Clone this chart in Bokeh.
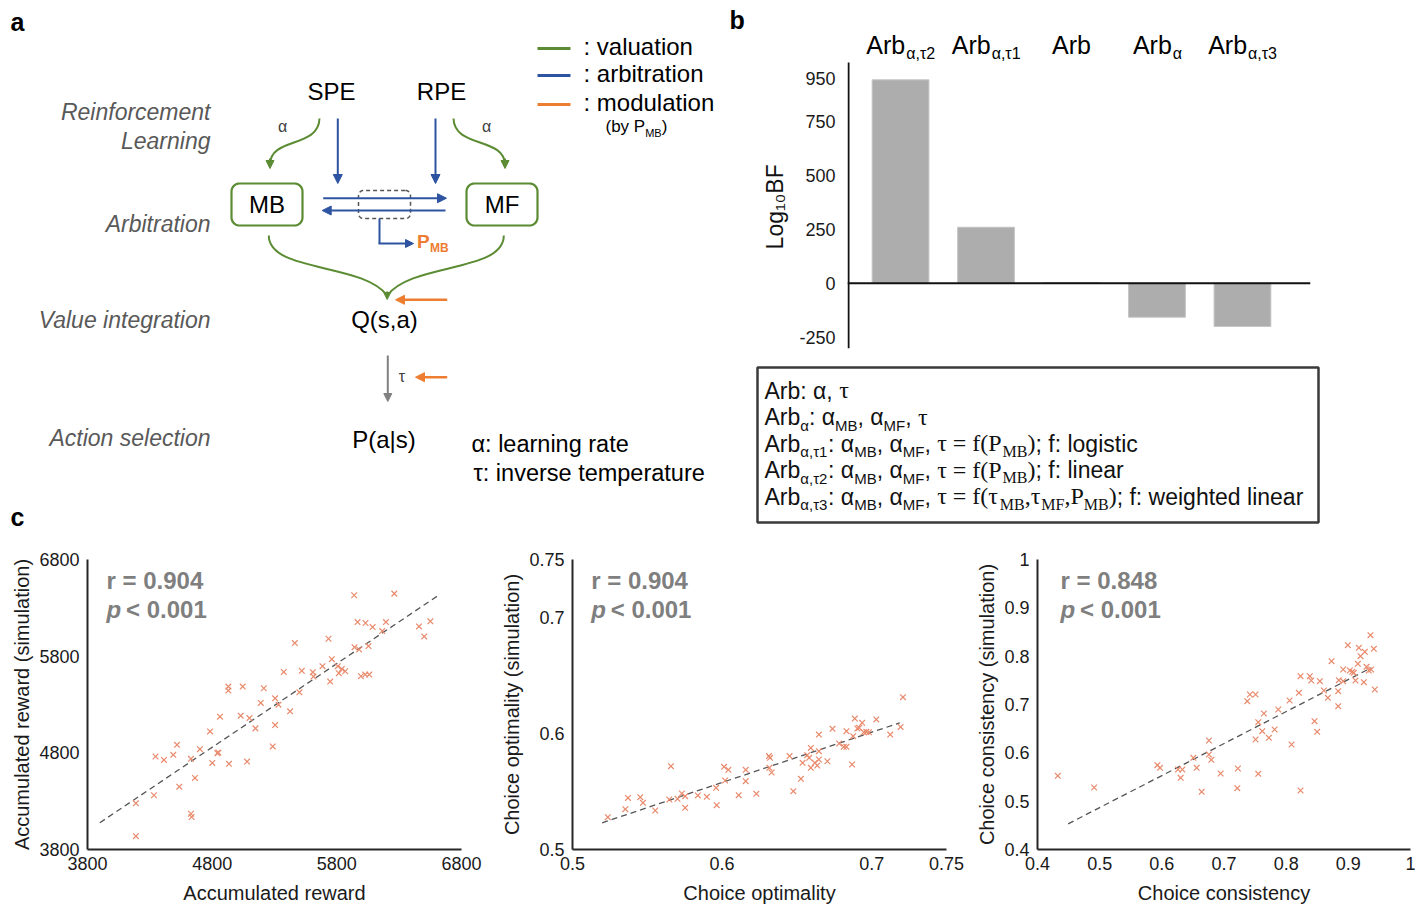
import numpy as np
from bokeh.plotting import figure
from bokeh.layouts import row, column
from bokeh.models import Range1d, Arrow, NormalHead, Span, FixedTicker, CustomJSTickFormatter
from bokeh.core.properties import value
from bokeh.embed import file_html
from bokeh.resources import INLINE

# ---------------- data ----------------
model_base = ["Arb", "Arb", "Arb", "Arb", "Arb"]
model_sub = ["α,τ2", "α,τ1", "", "α", "α,τ3"]
log10_bf = [945, 260, 3, -158, -201]
bf_ticks = [-250, 0, 250, 500, 750, 950]

reward_obs = [4188, 4188, 4333, 4346, 4413, 4488, 4518, 4536, 4630, 4630, 4635, 4662, 4702, 4783,
              4801, 4842, 4850, 4863, 4930, 4930, 4935, 5029, 5045, 5080, 5099, 5147, 5190, 5214,
              5286, 5305, 5305, 5332, 5374, 5425, 5463, 5500, 5519, 5607, 5613, 5685, 5733, 5747,
              5760, 5808, 5816, 5840, 5867, 5939, 5942, 5966, 5979, 5993, 6030, 6028, 6054, 6060,
              6087, 6164, 6194, 6261, 6459, 6501, 6550]
reward_sim = [3938, 4278, 4361, 4762, 4727, 4779, 4883, 4450, 4738, 4170, 4136, 4540, 4838, 5021,
              4696, 4797, 4803, 5174, 5485, 5444, 4686, 5184, 5485, 4710, 5160, 5053, 5316, 5468,
              4866, 5364, 5087, 5298, 5637, 5229, 5935, 5426, 5648, 5634, 5589, 5696, 5980, 5537,
              5769, 5696, 5624, 5668, 5644, 6430, 5893, 6153, 5869, 5592, 6143, 5610, 5904, 5610,
              6101, 6060, 6153, 6447, 6108, 6004, 6160]
reward_fit_x = [3899, 6603]
reward_fit_y = [4077, 6419]
reward_ticks = [3800, 4800, 5800, 6800]

optim_obs = [0.5236, 0.5353, 0.5371, 0.5453, 0.5471, 0.5553, 0.5647, 0.5658, 0.5702, 0.5731,
             0.5753, 0.5753, 0.5838, 0.5898, 0.5960, 0.5964, 0.6013, 0.6020, 0.6042, 0.6111,
             0.6158, 0.6158, 0.6229, 0.6313, 0.6320, 0.6316, 0.6331, 0.6451, 0.6476, 0.6527,
             0.6538, 0.6569, 0.6582, 0.6593, 0.6593, 0.6620, 0.6636, 0.6647, 0.6647, 0.6647,
             0.6704, 0.6738, 0.6782, 0.6813, 0.6831, 0.6831, 0.6869, 0.6876, 0.6887, 0.6904,
             0.6916, 0.6936, 0.6947, 0.6964, 0.6982, 0.7031, 0.7124, 0.7193, 0.7209]
optim_sim = [0.5279, 0.5348, 0.5445, 0.5451, 0.5402, 0.5336, 0.5431, 0.5718, 0.5437, 0.5483,
             0.5460, 0.5359, 0.5466, 0.5454, 0.5532, 0.5382, 0.5713, 0.5595, 0.5687, 0.5468,
             0.5687, 0.5589, 0.5480, 0.5805, 0.5790, 0.5704, 0.5664, 0.5805, 0.5503, 0.5609,
             0.5747, 0.5813, 0.5790, 0.5876, 0.5704, 0.5747, 0.5724, 0.5776, 0.5848, 0.5991,
             0.5761, 0.6040, 0.5914, 0.5885, 0.5885, 0.6020, 0.5733, 0.5977, 0.6129, 0.6043,
             0.6049, 0.6092, 0.6011, 0.6014, 0.6011, 0.6121, 0.5991, 0.6057, 0.6313]
optim_fit_x = [0.5198, 0.7187]
optim_fit_y = [0.5230, 0.6092]
optim_ticks = [0.5, 0.6, 0.7, 0.75]

consist_obs = [0.4327, 0.4911, 0.5928, 0.5971, 0.6260, 0.6330, 0.6303, 0.6507, 0.6560, 0.6641,
               0.6758, 0.6758, 0.6796, 0.6946, 0.7224, 0.7214, 0.7374, 0.7417, 0.7508, 0.7508,
               0.7551, 0.7551, 0.7615, 0.7642, 0.7722, 0.7814, 0.7873, 0.8055, 0.8087, 0.8205,
               0.8231, 0.8231, 0.8381, 0.8403, 0.8456, 0.8499, 0.8542, 0.8606, 0.8671, 0.8730,
               0.8837, 0.8837, 0.8847, 0.8917, 0.8917, 0.8992, 0.9024, 0.9062, 0.9088, 0.9115,
               0.9153, 0.9169, 0.9196, 0.9249, 0.9265, 0.9292, 0.9329, 0.9356, 0.9367, 0.9410,
               0.9426]
consist_sim = [0.5524, 0.5283, 0.5745, 0.5690, 0.5655, 0.5655, 0.5483, 0.5897, 0.5690, 0.5193,
               0.6255, 0.5966, 0.5855, 0.5572, 0.5676, 0.5269, 0.7069, 0.7207, 0.7207, 0.6276,
               0.5566, 0.6634, 0.6448, 0.6814, 0.6310, 0.6483, 0.6897, 0.7083, 0.6172, 0.7241,
               0.7586, 0.5221, 0.7586, 0.7497, 0.6655, 0.6434, 0.7483, 0.7290, 0.7138, 0.7897,
               0.7276, 0.6966, 0.7503, 0.7724, 0.7483, 0.8228, 0.7703, 0.7676, 0.7655, 0.7497,
               0.7841, 0.8172, 0.8000, 0.7462, 0.8090, 0.7779, 0.7703, 0.8434, 0.7724, 0.8152,
               0.7310]
consist_fit_x = [0.4493, 0.9367]
consist_fit_y = [0.4531, 0.7759]
consist_ticks = [0.4, 0.5, 0.6, 0.7, 0.8, 0.9, 1.0]

corr_r = ["0.904", "0.904", "0.848"]
corr_p = "0.001"

# ---------------- styles ----------------
SANS = "Liberation Sans"
SERIF = "Liberation Serif"
GREEN = "#5B8C33"
BLUE = "#2E54A1"
ORANGE = "#ED7D31"
GRAYTXT = "#595959"
MARK = "#E98A6C"
BASE_K = 0.36   # glyph y is drawn at the visual middle of capitals

SANS_W = {' ': 278, '!': 278, '(': 333, ')': 333, ',': 278, '.': 278, ':': 278, ';': 278,
          '<': 584, '=': 584, '|': 260, 'α': 578, 'τ': 440}
for d in "0123456789":
    SANS_W[d] = 556
SANS_W.update(dict(zip("ABCDEFGHIJKLMNOPQRSTUVWXYZ",
                       [667, 667, 722, 722, 667, 611, 778, 722, 278, 500, 667, 556, 833, 722, 778,
                        667, 778, 722, 667, 611, 722, 667, 944, 667, 667, 611])))
SANS_W.update(dict(zip("abcdefghijklmnopqrstuvwxyz",
                       [556, 556, 500, 556, 556, 278, 556, 556, 222, 222, 500, 222, 833, 556, 556,
                        556, 556, 333, 500, 278, 556, 500, 722, 500, 500, 500])))
SERIF_W = {' ': 250, '=': 564, '(': 333, ')': 333, ',': 250, 'f': 333, 'P': 556, 'M': 889,
           'B': 667, 'F': 556, 'τ': 440, 'α': 520}


def tw(s, size, table):
    return sum(table.get(ch, 556) for ch in s) * size / 1000.0


def raw_txt(p, x, y, s, size, color="#000000", style="normal", align="left", font=SANS):
    p.text(x=[x], y=[y], text=[s], text_font=value(font), text_font_size=f"{size}px",
           text_color=color, text_font_style=style, text_align=align,
           text_baseline="alphabetic")


def txt(p, x, base, s, size, **kw):
    # page-pixel canvases: y axis points down
    raw_txt(p, x, base - BASE_K * size, s, size, **kw)


def canvas(w, h, x0, y0):
    p = figure(width=w, height=h, x_range=Range1d(x0, x0 + w), y_range=Range1d(y0 + h, y0),
               output_backend="svg", toolbar_location=None, min_border=0,
               x_axis_location=None, y_axis_location=None)
    p.outline_line_color = None
    p.grid.visible = False
    return p


def arrow(p, xs, ys, xe, ye, color, lw=2, size=9):
    p.add_layout(Arrow(end=NormalHead(size=size, fill_color=color, line_color=color, line_width=1),
                       x_start=xs, y_start=ys, x_end=xe, y_end=ye,
                       line_color=color, line_width=lw))


def rrect(x0, y0, x1, y1, r, n=10):
    xs, ys = [], []
    corners = [(x1 - r, y0 + r, -np.pi / 2, 0), (x1 - r, y1 - r, 0, np.pi / 2),
               (x0 + r, y1 - r, np.pi / 2, np.pi), (x0 + r, y0 + r, np.pi, 1.5 * np.pi)]
    for cx, cy, a0, a1 in corners:
        t = np.linspace(a0, a1, n)
        xs += list(cx + r * np.cos(t))
        ys += list(cy + r * np.sin(t))
    return xs, ys


# ---------------- panel a (upper part) ----------------
pa = canvas(748, 350, 0, 0)
txt(pa, 10, 30, "a", 25, style="bold")
txt(pa, 729, 28.5, "b", 25, style="bold")

for s, y in (("Reinforcement", 120), ("Learning", 149), ("Arbitration", 232),
             ("Value integration", 328)):
    txt(pa, 210, y, s, 23, color=GRAYTXT, style="italic", align="right")

# legend
for c, y, s in ((GREEN, 48, ": valuation"), (BLUE, 75, ": arbitration"), (ORANGE, 104, ": modulation")):
    pa.line([537, 570], [y, y], line_color=c, line_width=3)
    txt(pa, 583, y + 6.5, s, 24)
txt(pa, 605, 132, "(by P", 17)
txt(pa, 605 + tw("(by P", 17, SANS_W), 136, "MB", 11)
txt(pa, 605 + tw("(by P", 17, SANS_W) + tw("MB", 11, SANS_W), 132, ")", 17)

# nodes
txt(pa, 331, 100, "SPE", 24, align="center")
txt(pa, 441, 100, "RPE", 24, align="center")
for (x0, x1, lab) in ((231, 302, "MB"), (466, 537, "MF")):
    bx, by = rrect(x0, 183, x1, 225, 8)
    pa.patch(bx, by, fill_color="white", line_color=GREEN, line_width=2.2)
    txt(pa, (x0 + x1) / 2, 213, lab, 24, align="center")

# valuation curves (green)
pa.bezier(x0=[319, 453], y0=[118, 118], x1=[269.5, 504.5], y1=[164, 164],
          cx0=[318, 454], cy0=[148, 148], cx1=[270, 503.5], cy1=[136, 136],
          line_color=GREEN, line_width=2)
arrow(pa, 269.5, 158, 269.5, 168, GREEN, size=8)
arrow(pa, 504.5, 158, 504.5, 168, GREEN, size=8)
txt(pa, 282, 132, "α", 16, color="#404040", align="center")
txt(pa, 486, 132, "α", 16, color="#404040", align="center")
pa.bezier(x0=[268.3, 503.3], y0=[235, 235], x1=[386.7, 386.7], y1=[295, 295],
          cx0=[268.3, 503.3], cy0=[272, 272], cx1=[362, 411.4], cy1=[262, 262],
          line_color=GREEN, line_width=2)
arrow(pa, 386.7, 291, 386.7, 299, GREEN, size=7)

# arbitration (blue)
bx, by = rrect(358, 190, 410, 218, 5)
pa.patch(bx, by, fill_color=None, line_color="#555555", line_width=1.5, line_dash="4 3")
arrow(pa, 337.3, 118, 337.3, 183, BLUE)
arrow(pa, 435, 118, 435, 183, BLUE)
arrow(pa, 322.7, 197.7, 446, 197.7, BLUE)
arrow(pa, 445, 210, 321.7, 210, BLUE)
pa.line([379, 379], [218, 243], line_color=BLUE, line_width=2)
arrow(pa, 378, 243, 413, 243, BLUE, size=8)
txt(pa, 416.5, 248, "P", 19, color=ORANGE, style="bold")
txt(pa, 416.5 + tw("P", 19, SANS_W) * 1.02, 251.5, "MB", 12, color=ORANGE, style="bold")

txt(pa, 384, 328, "Q(s,a)", 24, align="center")
arrow(pa, 446.7, 299.3, 395, 299.3, ORANGE, lw=2.5)

# ---------------- panel a (lower part) ----------------
pa2 = canvas(748, 182, 0, 350)
txt(pa2, 210, 446, "Action selection", 23, color=GRAYTXT, style="italic", align="right")
arrow(pa2, 387.3, 355, 387.3, 401, "#808080", lw=2, size=8)
txt(pa2, 401.5, 382, "τ", 16, color="#404040", align="center")
arrow(pa2, 446.7, 376.7, 415, 376.7, ORANGE, lw=2.5)
txt(pa2, 383.5, 448, "P(a|s)", 24, align="center")
txt(pa2, 471, 452, "α: learning rate", 23.5)
txt(pa2, 473, 481, "τ: inverse temperature", 23.5)
txt(pa2, 10, 525, "c", 25, style="bold")

# ---------------- panel b (bars) ----------------
FR_L, FR_R = 847, 1310
FR_T, FR_B = 20, 348
ZERO_PX, PX_PER = 282.7, 0.2152
X0, X1 = -0.6206, 4.796
PXU = (FR_R - FR_L) / (X1 - X0)
Y_TOP = (ZERO_PX - FR_T) / PX_PER
Y_BOT = -(FR_B - ZERO_PX) / PX_PER
AXIS_TOP = (ZERO_PX - 62) / PX_PER
idx = list(range(len(log10_bf)))

pb = figure(width=679, height=350, x_range=Range1d(X0, X1), y_range=Range1d(Y_BOT, Y_TOP),
            output_backend="svg", toolbar_location=None, x_axis_location=None,
            min_border_left=FR_L - 748, min_border_right=1427 - FR_R,
            min_border_top=FR_T, min_border_bottom=350 - FR_B)
pb.outline_line_color = None
pb.grid.visible = False
pb.vbar(x=idx, top=log10_bf, bottom=0, width=0.664, fill_color="#ADADAD",
        line_color="#C4C4C4", line_width=1)
pb.add_layout(Span(location=0, dimension="width", line_color="#111111", line_width=2))
pb.segment(x0=[X0 + 1.0 / PXU], x1=[X0 + 1.0 / PXU], y0=[Y_BOT], y1=[AXIS_TOP],
           line_color="#111111", line_width=2)
ya = pb.yaxis[0]
ya.ticker = FixedTicker(ticks=bf_ticks)
ya.formatter = CustomJSTickFormatter(code="return String(tick);")
ya.axis_line_color = None
ya.major_tick_line_color = None
ya.minor_tick_line_color = None
ya.major_tick_out = 0
ya.major_tick_in = 0
ya.major_label_standoff = 12
ya.major_label_text_font = SANS
ya.major_label_text_font_size = "18px"
ya.major_label_text_color = "#1a1a1a"
ya.axis_label = "Log₁₀BF" + "\u00a0" * 7
ya.axis_label_text_font = SANS
ya.axis_label_text_font_size = "23px"
ya.axis_label_text_font_style = "normal"
ya.axis_label_text_color = "#111111"
ya.axis_label_standoff = 8


def pb_y(page_base, size):
    return (ZERO_PX - (page_base - BASE_K * size)) / PX_PER


for i, (b, s) in enumerate(zip(model_base, model_sub)):
    wb = tw(b, 25, SANS_W)
    ws = tw(s, 16, SANS_W)
    left = i - (wb + ws) / 2 / PXU
    raw_txt(pb, left, pb_y(53.3, 25), b, 25)
    if s:
        raw_txt(pb, left + (wb + 1) / PXU, pb_y(58.5, 16), s, 16)

# ---------------- panel b (model box) ----------------
pbox = canvas(679, 182, 748, 350)
pbox.quad(left=[757], right=[1318], top=[367], bottom=[522], fill_color=None,
          line_color="#3A3A3A", line_width=2.5)
STY = {"n": (SANS, 23, 0, SANS_W), "s": (SANS, 15, 5, SANS_W),
       "m": (SERIF, 24, 0, SERIF_W), "ms": (SERIF, 16, 5, SERIF_W)}
box_lines = [
    [("Arb: α, ", "n"), ("τ", "m")],
    [("Arb", "n"), ("α", "s"), (": α", "n"), ("MB", "s"), (", α", "n"), ("MF", "s"), (", ", "n"),
     ("τ", "m")],
    [("Arb", "n"), ("α,τ1", "s"), (": α", "n"), ("MB", "s"), (", α", "n"), ("MF", "s"), (", ", "n"),
     ("τ = f(P", "m"), ("MB", "ms"), (")", "m"), ("; f: logistic", "n")],
    [("Arb", "n"), ("α,τ2", "s"), (": α", "n"), ("MB", "s"), (", α", "n"), ("MF", "s"), (", ", "n"),
     ("τ = f(P", "m"), ("MB", "ms"), (")", "m"), ("; f: linear", "n")],
    [("Arb", "n"), ("α,τ3", "s"), (": α", "n"), ("MB", "s"), (", α", "n"), ("MF", "s"), (", ", "n"),
     ("τ = f(τ", "m"), ("MB", "ms"), (",τ", "m"), ("MF", "ms"), (",P", "m"), ("MB", "ms"),
     (")", "m"), ("; f: weighted linear", "n")],
]
for li, segs in enumerate(box_lines):
    x = 764
    y = 398.5 + 26.5 * li
    for s, st in segs:
        font, size, dy, table = STY[st]
        txt(pbox, x, y + dy, s, size, color="#111111", font=font)
        x += tw(s, size, table)


# ---------------- panel c ----------------
ROW_Y = 532


def scatter_panel(width, page_x, bl, br, xrng, yrng, xticks, yticks, xlabel, ylabel,
                  xs, ys, fx, fy, r_txt, r_page_x):
    top, bottom, height = 27, 58, 375
    p = figure(width=width, height=height, x_range=Range1d(*xrng), y_range=Range1d(*yrng),
               output_backend="svg", toolbar_location=None, min_border_left=bl,
               min_border_right=br, min_border_top=top, min_border_bottom=bottom)
    p.grid.visible = False
    p.outline_line_color = None
    for ax, ticks in ((p.xaxis[0], xticks), (p.yaxis[0], yticks)):
        ax.ticker = FixedTicker(ticks=ticks)
        ax.formatter = CustomJSTickFormatter(code="return String(Math.round(tick*100)/100);")
        ax.axis_line_width = 2
        ax.axis_line_color = "#262626"
        ax.major_tick_line_color = None
        ax.minor_tick_line_color = None
        ax.major_tick_out = 0
        ax.major_tick_in = 0
        ax.major_label_text_font = SANS
        ax.major_label_text_font_size = "18px"
        ax.major_label_text_color = "#1a1a1a"
        ax.axis_label_text_font = SANS
        ax.axis_label_text_font_size = "20px"
        ax.axis_label_text_font_style = "normal"
        ax.axis_label_text_color = "#1a1a1a"
    p.xaxis[0].major_label_standoff = 7
    p.xaxis[0].axis_label_standoff = 9
    p.yaxis[0].major_label_standoff = 8
    p.yaxis[0].axis_label_standoff = 3
    p.xaxis[0].axis_label = xlabel
    p.yaxis[0].axis_label = ylabel
    p.line(fx, fy, line_dash="6 4", line_color="#555555", line_width=1.3)
    p.scatter(xs, ys, marker="x", size=8, line_color=MARK, line_width=1.2)
    # stats text, positioned from page pixels through the frame mapping
    fl = page_x + bl
    fw = width - bl - br
    ft = ROW_Y + top
    fh = height - top - bottom

    def dx(px):
        return xrng[0] + (px - fl) / fw * (xrng[1] - xrng[0])

    def dy(py, size):
        py = py - BASE_K * size
        return yrng[1] - (py - ft) / fh * (yrng[1] - yrng[0])

    raw_txt(p, dx(r_page_x), dy(589, 24), "r = " + r_txt, 24, color="#7F7F7F", style="bold")
    raw_txt(p, dx(r_page_x), dy(618, 24), "p", 24, color="#7F7F7F", style="bold italic")
    raw_txt(p, dx(r_page_x + 19.5), dy(618, 24), "< " + corr_p, 24, color="#7F7F7F", style="bold")
    return p


c1 = scatter_panel(495, 0, 87, 34, (3800, 6800), (3800, 6800), reward_ticks, reward_ticks,
                   "Accumulated reward", "Accumulated reward (simulation)",
                   reward_obs, reward_sim, reward_fit_x, reward_fit_y, corr_r[0], 106)
c2 = scatter_panel(472, 495, 77, 21, (0.5, 0.75), (0.5, 0.75), optim_ticks, optim_ticks,
                   "Choice optimality", "Choice optimality (simulation)",
                   optim_obs, optim_sim, optim_fit_x, optim_fit_y, corr_r[1], 590.7)
c3 = scatter_panel(460, 967, 70, 17, (0.4, 1.0), (0.4, 1.0), consist_ticks, consist_ticks,
                   "Choice consistency", "Choice consistency (simulation)",
                   consist_obs, consist_sim, consist_fit_x, consist_fit_y, corr_r[2], 1060)

layout = column(row(pa, column(pb, spacing=0), spacing=0),
                row(pa2, column(pbox, spacing=0), spacing=0),
                row(c1, c2, c3, spacing=0), spacing=0)
open("out.html", "w").write(file_html(layout, INLINE))
